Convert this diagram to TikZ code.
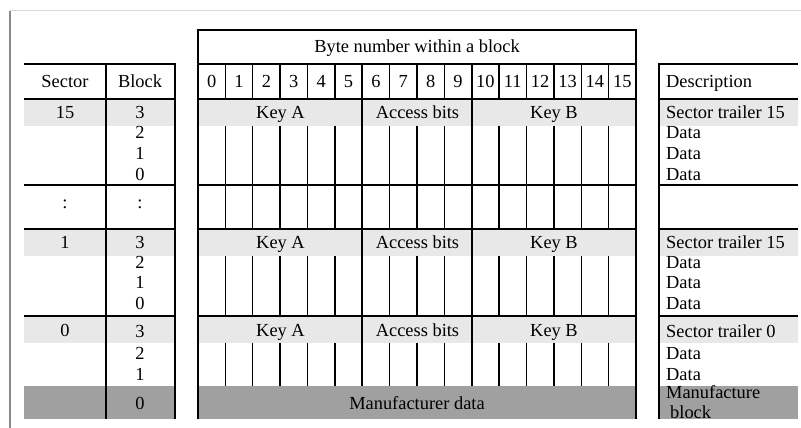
\documentclass[tikz,border=0pt]{standalone}
\usepackage{fontspec}
\setmainfont{Liberation Serif}
\definecolor{lightband}{HTML}{E8E8E8}
\definecolor{darkband}{HTML}{A0A0A0}
\definecolor{framegray}{HTML}{D8D8D8}
\definecolor{framedark}{HTML}{8A8A8A}
\begin{document}
\begin{tikzpicture}[x=1pt,y=-1pt,
  thickrule/.style={line width=2.6pt,black},
  thinrule/.style={line width=1.3pt,black},
  cell/.style={font=\fontsize{18.4}{20}\selectfont,inner sep=0pt,anchor=base},
  desc/.style={font=\fontsize{18.4}{20}\selectfont,inner sep=0pt,anchor=base west}]
\useasboundingbox (0,0) rectangle (801,428);
% outer frame
\draw[framegray,line width=1pt] (10,11) -- (801,11);
\draw[framedark,line width=1.4pt] (10,11) -- (10,428);
% bands
\foreach \y in {99,229,316}{
  \fill[lightband] (24,\y) rectangle (175,\y+26.5);
  \fill[lightband] (198,\y) rectangle (636,\y+26.5);
  \fill[lightband] (659,\y) rectangle (798,\y+26.5);
}
\fill[darkband] (24,386) rectangle (175,419);
\fill[darkband] (198,386) rectangle (636,419);
\fill[darkband] (659,386) rectangle (798,419);
% left table
\draw[thickrule] (24,64) -- (176.3,64);
\foreach \y in {99,185,229,316}{\draw[thickrule] (24,\y) -- (175,\y);}
\draw[thickrule] (106,64) -- (106,419);
\draw[thickrule] (175,64) -- (175,419);
% middle table
\draw[thickrule] (196.7,30) -- (637.3,30);
\foreach \y in {64,99,185,229,316}{\draw[thickrule] (198,\y) -- (636,\y);}
\draw[thickrule] (198,30) -- (198,419);
\draw[thickrule] (636,30) -- (636,419);
\foreach \i in {1,...,15}{
  \pgfmathsetmacro{\xx}{198+\i*27.375}
  \ifnum\i=6
    \draw[line width=2pt] (\xx,64) -- (\xx,386);
  \else\ifnum\i=10
    \draw[line width=2pt] (\xx,64) -- (\xx,386);
  \else
    \draw[thinrule] (\xx,64) -- (\xx,99);
    \draw[thinrule] (\xx,125.5) -- (\xx,229);
    \draw[thinrule] (\xx,255.5) -- (\xx,316);
    \draw[thinrule] (\xx,342.5) -- (\xx,386);
  \fi\fi
}
% right table
\draw[thickrule] (657.7,64) -- (798,64);
\foreach \y in {99,185,229,316}{\draw[thickrule] (659,\y) -- (798,\y);}
\draw[thickrule] (659,64) -- (659,419);
% header texts
\node[cell] (hbyte) at (417,53) {Byte number within a block};
\node[cell] (hsector) at (65,88) {Sector};
\node[cell] (hblock) at (140,88) {Block};
\node[desc] (hdesc) at (666,88) {Description};
\foreach \i in {0,...,15}{
  \pgfmathsetmacro{\xx}{198+(\i+0.5)*27.375}
  \node[cell] (n\i) at (\xx,88) {\i};
}
% sector 15
\node[cell] (s15) at (65,118) {15};
\node[cell] (b15a) at (140,118) {3};
\node[cell] (b15b) at (140,138) {2};
\node[cell] (b15c) at (140,159) {1};
\node[cell] (b15d) at (140,180) {0};
\node[cell] (ka15) at (280.5,118) {Key A};
\node[cell] (ab15) at (417.5,118) {Access bits};
\node[cell] (kb15) at (554,118) {Key B};
\node[desc] (d15a) at (666,118) {Sector trailer 15};
\node[desc] (d15b) at (666,138) {Data};
\node[desc] (d15c) at (666,159) {Data};
\node[desc] (d15d) at (666,180) {Data};
% dots
\node[cell] (sdots) at (65,208) {:};
\node[cell] (bdots) at (140,208) {:};
% sector 1
\node[cell] (s1) at (65,248) {1};
\node[cell] (b1a) at (140,248) {3};
\node[cell] (b1b) at (140,268) {2};
\node[cell] (b1c) at (140,288) {1};
\node[cell] (b1d) at (140,309) {0};
\node[cell] (ka1) at (280.5,248) {Key A};
\node[cell] (ab1) at (417.5,248) {Access bits};
\node[cell] (kb1) at (554,248) {Key B};
\node[desc] (d1a) at (666,248) {Sector trailer 15};
\node[desc] (d1b) at (666,268) {Data};
\node[desc] (d1c) at (666,288) {Data};
\node[desc] (d1d) at (666,309) {Data};
% sector 0
\node[cell] (s0) at (65,336) {0};
\node[cell] (b0a) at (140,337) {3};
\node[cell] (b0b) at (140,359) {2};
\node[cell] (b0c) at (140,380) {1};
\node[cell] (b0d) at (140,409) {0};
\node[cell] (ka0) at (280.5,336) {Key A};
\node[cell] (ab0) at (417.5,336) {Access bits};
\node[cell] (kb0) at (554,336) {Key B};
\node[desc] (d0a) at (666,337) {Sector trailer 0};
\node[desc] (d0b) at (666,359) {Data};
\node[desc] (d0c) at (666,380) {Data};
\node[cell] (mfd) at (417,409) {Manufacturer data};
\node[desc] (d0d1) at (666,398) {Manufacture};
\node[desc] (d0d2) at (670,418) {block};
\end{tikzpicture}
\end{document}
